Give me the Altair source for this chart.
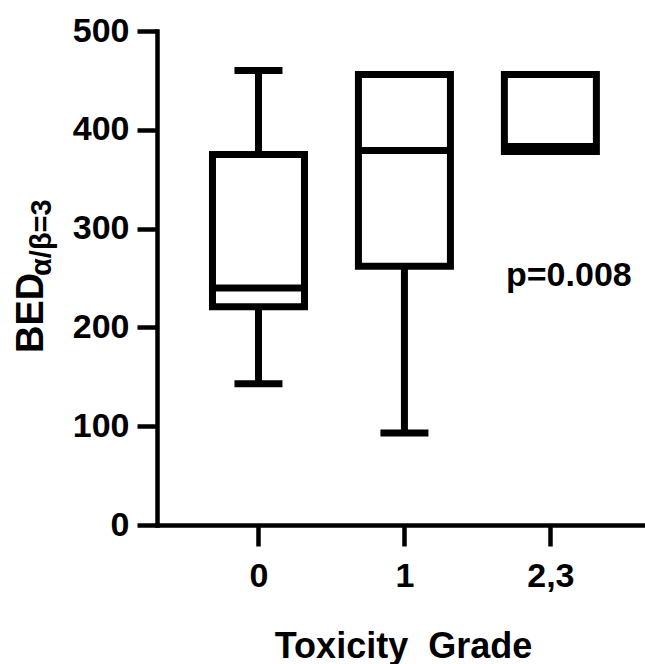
import altair as alt
import pandas as pd

categories = ["0", "1", "2,3"]
mins = [143, 93, 378]
q1s = [221, 262, 378]
medians = [240, 379, 383]
q3s = [375, 456, 456]
maxs = [460, 456, 456]

y_ticks = [0, 100, 200, 300, 400, 500]
x_title = "Toxicity\u00a0\u00a0Grade"
y_title_main = "BED"
y_title_sub = "α/β=3"
p_text = "p=0.008"

df = pd.DataFrame({
    "idx": list(range(len(categories))),
    "cat": categories,
    "min": mins,
    "q1": q1s,
    "median": medians,
    "q3": q3s,
    "max": maxs,
})

FONT = "Liberation Sans"
label_expr = "[" + ",".join("'" + c + "'" for c in categories) + "][datum.value]"

x_enc = alt.X(
    "idx:Q",
    scale=alt.Scale(domain=[-0.661, 2.614], nice=False, zero=False),
    axis=alt.Axis(
        values=list(range(len(categories))),
        labelExpr=label_expr,
        grid=False,
        tickSize=21,
        tickWidth=4.5,
        domainWidth=4.5,
        domainCap="square",
        labelPadding=13,
        labelFontSize=34,
        labelFont=FONT,
        labelFontWeight="bold",
        labelColor="black",
        tickColor="black",
        domainColor="black",
        title=x_title,
        titleFont=FONT,
        titleFontSize=36,
        titleFontWeight="bold",
        titleColor="black",
        titleBaseline="alphabetic",
        titleX=246,
        titleY=132,
    ),
)

y_scale = alt.Scale(domain=[0, 500], nice=False)
y_axis = alt.Axis(
    values=y_ticks,
    grid=False,
    tickSize=20,
    tickWidth=4.5,
    domainWidth=4.5,
    domainCap="square",
    labelPadding=8,
    labelFontSize=34,
    labelFont=FONT,
    labelFontWeight="bold",
    labelColor="black",
    labelBaseline="middle",
    tickColor="black",
    domainColor="black",
    title=None,
)

base = alt.Chart(df)

whisk_low = base.mark_rule(color="black", strokeWidth=7).encode(
    x=x_enc, y=alt.Y("min:Q", scale=y_scale, axis=y_axis), y2="q1:Q"
)
whisk_high = base.mark_rule(color="black", strokeWidth=7).encode(
    x=x_enc, y=alt.Y("q3:Q", scale=y_scale, axis=y_axis), y2="max:Q"
)
boxes = base.mark_bar(fill="white", stroke="black", strokeWidth=7, size=92).encode(
    x=x_enc, y=alt.Y("q1:Q", scale=y_scale, axis=y_axis), y2="q3:Q"
)
med = base.mark_tick(color="black", orient="horizontal", size=92, thickness=7, opacity=1).encode(
    x=x_enc, y=alt.Y("median:Q", scale=y_scale, axis=y_axis)
)
cap_low = base.mark_tick(color="black", orient="horizontal", size=48, thickness=7, opacity=1).encode(
    x=x_enc, y=alt.Y("min:Q", scale=y_scale, axis=y_axis)
)
cap_high = base.mark_tick(color="black", orient="horizontal", size=48, thickness=7, opacity=1).encode(
    x=x_enc, y=alt.Y("max:Q", scale=y_scale, axis=y_axis)
)

ptxt = alt.Chart(pd.DataFrame({"t": [p_text]})).mark_text(
    font=FONT, fontSize=34, fontWeight="bold", align="left", baseline="alphabetic", color="black"
).encode(x=alt.value(349), y=alt.value(255), text="t:N")

ytitle = alt.Chart(pd.DataFrame({"t": [y_title_main]})).mark_text(
    font=FONT, fontSize=38, fontWeight="bold", align="left", baseline="alphabetic", angle=270, color="black"
).encode(x=alt.value(-114), y=alt.value(322), text="t:N")

ysub = alt.Chart(pd.DataFrame({"t": [y_title_sub]})).mark_text(
    font=FONT, fontSize=29, fontWeight="bold", align="left", baseline="alphabetic", angle=270, color="black"
).encode(x=alt.value(-106), y=alt.value(245), text="t:N")

chart = alt.layer(
    whisk_low, whisk_high, boxes, med, cap_low, cap_high, ptxt, ytitle, ysub
).properties(
    width=488,
    height=494,
    autosize="none",
    padding={"left": 157, "top": 31, "right": 0, "bottom": 139},
    background="white",
).configure_view(stroke=None)

chart.save("out.html", embed_options={"renderer": "svg", "actions": False})
